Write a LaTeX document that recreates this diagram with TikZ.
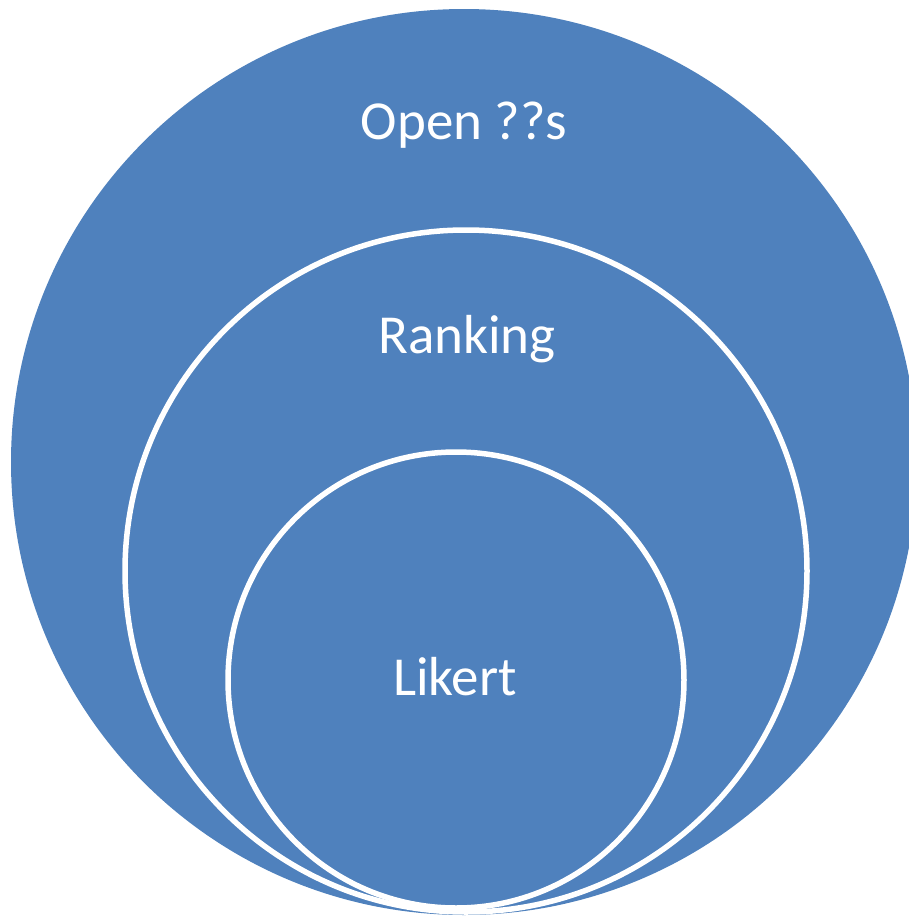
\documentclass[tikz,border=0pt]{standalone}
\usepackage{fontspec}
\setmainfont{Carlito}
\definecolor{offblue}{RGB}{79,129,189}
\begin{document}
\begin{tikzpicture}[x=1pt,y=-1pt,
  ring/.style={fill=offblue,draw=white,line width=5.5pt},
  lbl/.style={text=white,font=\fontsize{55}{60}\selectfont,anchor=base,inner sep=0pt}]
\useasboundingbox (0,0) rectangle (909,916);
\clip (0,0) rectangle (909,916);
\fill[offblue] (464,462) circle (453);
\node[draw=none,inner sep=0pt,minimum size=0pt] (outer) at (464,462) {};
\draw[ring] (466,571) circle (341);
\node[inner sep=0pt] (middle) at (466,571) {};
\draw[ring] (456,680) circle (228);
\node[inner sep=0pt] (inner) at (456,680) {};
\node[lbl] (open) at (464,139) {Open ??s};
\node[lbl] (ranking) at (467,353) {Ranking};
\node[lbl] (likert) at (455,695) {Likert};
\end{tikzpicture}
\end{document}
